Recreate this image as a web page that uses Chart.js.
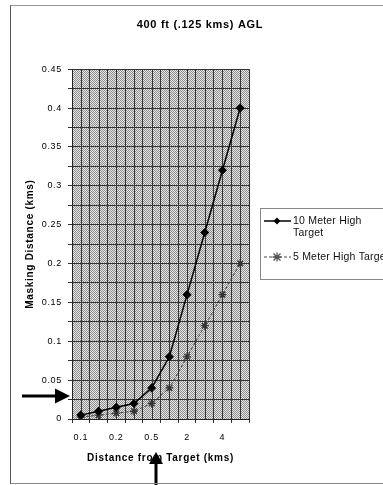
<!DOCTYPE html>
<html><head><meta charset="utf-8">
<script src="https://cdn.jsdelivr.net/npm/chart.js@4/dist/chart.umd.min.js"></script>
<style>
html,body{margin:0;padding:0;background:#fff;overflow:hidden}
#wrap{position:relative;width:383px;height:485px}
canvas{position:absolute;left:0;top:0}
#frame{position:absolute;left:10px;top:5px;width:380px;height:477px;border-left:1px solid #555;border-top:1px solid #999;border-bottom:1px solid #888;pointer-events:none}
</style></head><body>
<div id="wrap"><canvas id="c" width="383" height="485"></canvas><div id="frame"></div></div>
<script>
const chartTitle = '400 ft (.125 kms) AGL';
const distances = ['0.1','0.15','0.2','0.3','0.5','1','2','3','4','5'];
const target10m = [0.005,0.01,0.015,0.02,0.04,0.08,0.16,0.24,0.32,0.40];
const target5m = [0.0025,0.005,0.0075,0.01,0.02,0.04,0.08,0.12,0.16,0.20];
const seriesNames = ['10 Meter High Target','5 Meter High Target'];
const legendLines = [['10 Meter High','Target'],['5 Meter High Target']];
const yMax = 0.45, yMajor = 0.05, yMinor = 0.0125;
const xAxisTitle = 'Distance from Target (kms)';
const yAxisTitle = 'Masking Distance (kms)';
const arrowLevel = 0.03;
const arrowCategory = 4;

const yTickValues = [];
for (let i = 0; i * yMinor <= yMax + 1e-9; i++) yTickValues.push(+(i * yMinor).toFixed(4));

const FONT = 'Arial, "Liberation Sans", sans-serif';

const paperPlugin = {
  id: 'paper',
  beforeDraw(chart) {
    const {ctx, chartArea: a} = chart;
    ctx.letterSpacing = '0.7px';
    const pc = document.createElement('canvas'); pc.width = 2; pc.height = 2;
    const p = pc.getContext('2d');
    p.fillStyle = '#e6e6e6'; p.fillRect(0, 0, 2, 2);
    p.fillStyle = '#8e8e8e'; p.fillRect(0, 0, 1, 1); p.fillRect(1, 1, 1, 1);
    ctx.save();
    ctx.fillStyle = ctx.createPattern(pc, 'repeat');
    ctx.fillRect(a.left, a.top, a.right - a.left, a.bottom - a.top);
    ctx.restore();
  },
  beforeDatasetsDraw(chart) {
    const {ctx, chartArea: a, scales: {x}} = chart;
    ctx.save(); ctx.strokeStyle = '#333'; ctx.lineWidth = 1;
    chart.data.labels.forEach((l, i) => {
      const px = Math.round(x.getPixelForValue(i)) + 0.5;
      ctx.beginPath(); ctx.moveTo(px, a.top); ctx.lineTo(px, a.bottom); ctx.stroke();
    });
    ctx.restore();
  }
};

function drawMarker(ctx, style, cx, cy, color) {
  ctx.save();
  ctx.fillStyle = color; ctx.strokeStyle = color;
  if (style === 'rectRot') {
    const r = 3.5;
    ctx.beginPath(); ctx.moveTo(cx, cy - r); ctx.lineTo(cx + r, cy); ctx.lineTo(cx, cy + r); ctx.lineTo(cx - r, cy); ctx.closePath(); ctx.fill();
  } else {
    const r = 3.5; ctx.lineWidth = 1.3;
    ctx.beginPath();
    ctx.moveTo(cx - r, cy - r); ctx.lineTo(cx + r, cy + r);
    ctx.moveTo(cx + r, cy - r); ctx.lineTo(cx - r, cy + r);
    ctx.moveTo(cx, cy - r - 1); ctx.lineTo(cx, cy + r + 1);
    ctx.moveTo(cx - r - 1, cy); ctx.lineTo(cx + r + 1, cy);
    ctx.stroke();
  }
  ctx.restore();
}

const legendPlugin = {
  id: 'boxLegend',
  afterDraw(chart) {
    const {ctx, chartArea: a} = chart;
    const bx = a.right + 11, by = Math.round((a.top + a.bottom) / 2) - 36;
    ctx.save();
    ctx.letterSpacing = '0.2px';
    ctx.strokeStyle = '#888'; ctx.lineWidth = 1;
    ctx.strokeRect(bx + 0.5, by + 0.5, 140, 71);
    ctx.font = '10.5px ' + FONT; ctx.fillStyle = '#111'; ctx.textBaseline = 'middle'; ctx.textAlign = 'left';
    let y = by + 13;
    chart.data.datasets.forEach((ds, i) => {
      ctx.save();
      ctx.strokeStyle = ds.borderColor; ctx.lineWidth = ds.borderWidth;
      ctx.setLineDash(ds.borderDash || []);
      ctx.beginPath(); ctx.moveTo(bx + 4, y); ctx.lineTo(bx + 31, y); ctx.stroke();
      ctx.restore();
      drawMarker(ctx, ds.pointStyle, bx + 17, y, ds.pointBackgroundColor || ds.borderColor);
      legendLines[i].forEach((t, j) => ctx.fillText(t, bx + 33, y + j * 12));
      y += legendLines[i].length * 12 + 12;
    });
    ctx.restore();
  }
};

const arrowPlugin = {
  id: 'arrows',
  afterDraw(chart) {
    const {ctx, chartArea: a, scales: {x, y}} = chart;
    ctx.save(); ctx.fillStyle = '#000';
    // left arrow
    const ay = Math.round(y.getPixelForValue(arrowLevel));
    const tip = a.left - 2;
    ctx.fillRect(22, ay - 1.5, tip - 15 - 22 + 1, 3);
    ctx.beginPath(); ctx.moveTo(tip - 15, ay - 7.5); ctx.lineTo(tip, ay); ctx.lineTo(tip - 15, ay + 7.5); ctx.closePath(); ctx.fill();
    // up arrow
    const ax = Math.round(x.getPixelForValue(arrowCategory)) + 4;
    const tipY = a.bottom + 33;
    ctx.beginPath(); ctx.moveTo(ax - 7, tipY + 12); ctx.lineTo(ax, tipY); ctx.lineTo(ax + 7, tipY + 12); ctx.closePath(); ctx.fill();
    ctx.fillRect(ax - 1.5, tipY + 11, 3, chart.height - (tipY + 11));
    ctx.restore();
  }
};

new Chart(document.getElementById('c'), {
  type: 'line',
  data: {
    labels: distances,
    datasets: [
      { label: seriesNames[0], data: target10m, borderColor: '#000', backgroundColor: '#000',
        pointBackgroundColor: '#000', pointBorderColor: '#000', borderWidth: 1.5,
        pointStyle: 'rectRot', pointRadius: 3.5, tension: 0 },
      { label: seriesNames[1], data: target5m, borderColor: '#444', backgroundColor: '#777',
        pointBackgroundColor: '#555', pointBorderColor: '#333', borderWidth: 1, borderDash: [3, 2],
        pointStyle: 'star', pointRadius: 4, pointBorderWidth: 1.3, tension: 0 }
    ]
  },
  options: {
    responsive: false,
    animation: false,
    layout: { padding: { left: 17, right: 0, top: 18, bottom: 16 } },
    plugins: {
      legend: { display: false },
      tooltip: { enabled: false },
      title: { display: true, text: chartTitle, color: '#000',
        font: { family: FONT, size: 11, weight: 'bold' }, padding: { top: 0, bottom: 38 } }
    },
    scales: {
      x: {
        type: 'category', offset: true,
        grid: { offset: true, color: '#333', lineWidth: 1, tickLength: 4, drawTicks: true },
        border: { color: '#222' },
        ticks: { autoSkip: false, maxRotation: 0, padding: 9, color: '#000',
          font: { family: FONT, size: 9 },
          callback: (v, i) => (i % 2 === 0 ? distances[i] : '') },
        title: { display: true, text: xAxisTitle, color: '#000',
          font: { family: FONT, size: 10, weight: 'bold' }, padding: { top: 0, bottom: 5 } },
        afterFit: s => { s.height = 50; }
      },
      y: {
        min: 0, max: yMax,
        afterBuildTicks: s => { s.ticks = yTickValues.map(v => ({ value: v })); },
        grid: { color: '#333', lineWidth: 1, tickLength: 4 },
        border: { color: '#222' },
        ticks: { padding: 6, color: '#000', font: { family: FONT, size: 9 },
          callback: v => {
            const r = v / yMajor;
            return Math.abs(r - Math.round(r)) < 1e-6 ? String(+v.toFixed(2)) : '';
          } },
        title: { display: true, text: yAxisTitle, color: '#000',
          font: { family: FONT, size: 10, weight: 'bold' }, padding: { top: 7, bottom: 0 } },
        afterFit: s => { s.width = 55; }
      },
      y2: {
        position: 'right', display: true,
        grid: { display: false, drawTicks: false }, border: { display: false },
        ticks: { display: false },
        afterFit: s => { s.width = 134; }
      }
    }
  },
  plugins: [paperPlugin, legendPlugin, arrowPlugin]
});
</script>
</body></html>
